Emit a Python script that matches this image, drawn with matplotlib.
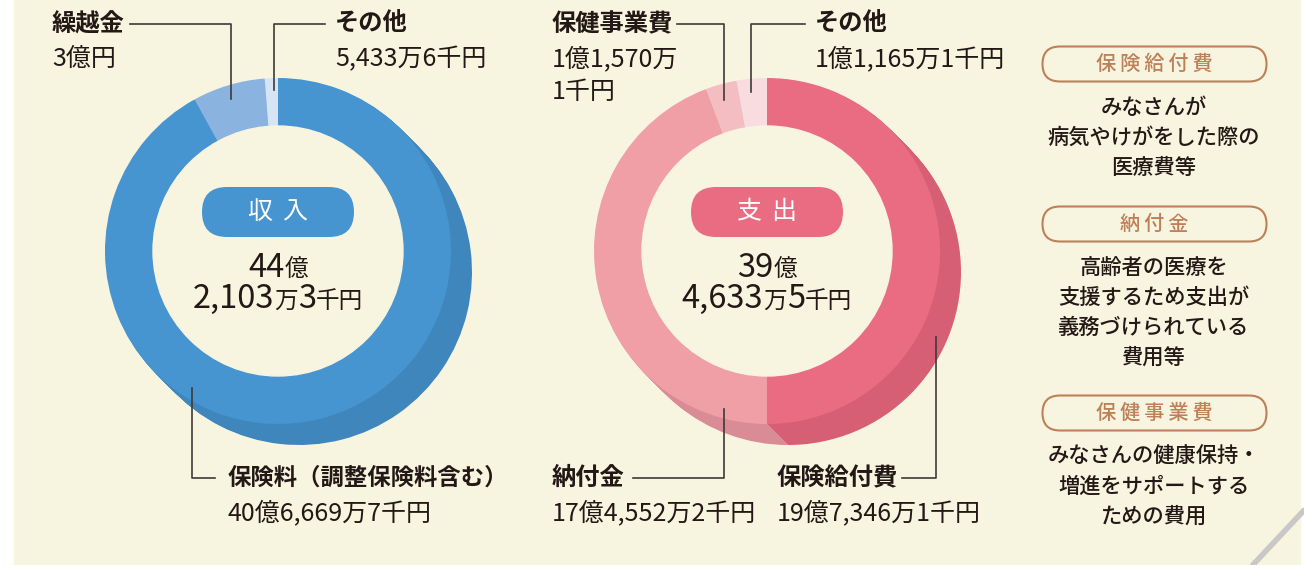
import matplotlib.pyplot as plt
from matplotlib.patches import Circle, FancyBboxPatch, Rectangle

plt.rcParams['font.family'] = ['Noto Sans CJK JP', 'DejaVu Sans']

W, H = 1304, 565
BG = '#F7F4E0'
INK = '#231815'
LINE = '#3E3A39'
BROWN = '#BF8058'

# 収入 (単位: 千円)
income_labels = ['保険料（調整保険料含む）', '繰越金', 'その他']
income_values = [4066697, 300000, 54336]
income_texts = ['40億6,669万7千円', '3億円', '5,433万6千円']
income_colors = ['#4694D0', '#8BB3DF', '#D6E4F4']
income_shadow = ['#3F86BC', '#7DA2CB', '#C2CFDF']
income_total = [['44', '億'], ['2,103', '万', '3', '千円']]

# 支出 (単位: 千円)
expense_labels = ['保険給付費', '納付金', '保健事業費', 'その他']
expense_values = [1973461, 1745522, 115701, 111651]
expense_texts = ['19億7,346万1千円', '17億4,552万2千円', '1億1,570万\n1千円', '1億1,165万1千円']
expense_colors = ['#EA6C82', '#F09FA7', '#F4BDC2', '#F9DCE0']
expense_shadow = ['#D65F75', '#DA8C96', '#DDAAAF', '#E2C6CA']
expense_total = [['39', '億'], ['4,633', '万', '5', '千円']]

# 用語説明
terms = ['保険給付費', '納付金', '保健事業費']
term_notes = [
    ['みなさんが', '病気やけがをした際の', '医療費等'],
    ['高齢者の医療を', '支援するため支出が', '義務づけられている', '費用等'],
    ['みなさんの健康保持・', '増進をサポートする', 'ための費用'],
]

R, R_IN, DEPTH = 173, 125, 21


def y(p):
    return H - p


fig = plt.figure(figsize=(W / 100, H / 100), dpi=100)
fig.patch.set_facecolor('white')
ax = fig.add_axes([0, 0, 1, 1])
ax.set_xlim(0, W)
ax.set_ylim(0, H)
renderer = fig.canvas.get_renderer()


def rich(cx, cy, parts):
    # digits large, units small, centred as one line
    texts = []
    for i, s in enumerate(parts):
        size = 23.5 if i % 2 == 0 else 17
        t = ax.text(0, y(cy), s, color=INK, fontsize=size, ha='left',
                    va='baseline', zorder=5)
        texts.append(t)
    widths = [t.get_window_extent(renderer).width for t in texts]
    x = cx - sum(widths) / 2
    for t, w in zip(texts, widths):
        t.set_x(x)
        x += w


def donut(cx, cy, values, colors, shadow, title, title_color, total):
    for k in range(DEPTH, 0, -1):
        ax.pie(values, colors=shadow, startangle=90, counterclock=False,
               radius=R, center=(cx + k, y(cy) - k))
    ax.pie(values, colors=colors, startangle=90, counterclock=False,
           radius=R, center=(cx, y(cy)))
    ax.add_patch(Circle((cx, y(cy)), R_IN, color=BG, zorder=3))
    ax.add_patch(FancyBboxPatch((cx - 51, y(cy - 39)), 102, 0,
                                boxstyle='round,pad=25', fc=title_color,
                                ec='none', zorder=4))
    ax.text(cx, y(cy - 39), title, color='white', fontsize=18,
            ha='center', va='center', zorder=5)
    rich(cx, cy + 26, total[0])
    rich(cx, cy + 57, total[1])


ax.add_patch(Rectangle((14, 0), 1286, H, color=BG, zorder=0))
ax.plot([1250, 1308], [y(568), y(506)], color='#C8C8C8', lw=4, zorder=1,
        solid_capstyle='butt')

donut(278, 251, income_values, income_colors, income_shadow,
      '収\u2009\u2009入', '#4694D0', income_total)
donut(767, 251, expense_values, expense_colors, expense_shadow,
      '支\u2009\u2009出', '#EA6C82', expense_total)


def label(x, yy, name, values, size=17.5):
    ax.text(x, y(yy), name, color=INK, fontsize=size, fontweight='bold',
            ha='left', va='center', zorder=6)
    for i, v in enumerate(values.split('\n')):
        ax.text(x, y(yy + 35 + i * 33), v, color=INK, fontsize=18,
                ha='left', va='center', zorder=6)


def leader(xs, ys):
    ax.plot(xs, [y(v) for v in ys], color=LINE, lw=1.2, zorder=6)


# 収入ラベル
label(228, 478, income_labels[0], income_texts[0], size=16.8)
leader([215, 192, 192], [478, 478, 388])
label(52, 24, income_labels[1], income_texts[1])
leader([130, 231, 231], [24, 24, 99])
label(335, 24, income_labels[2], income_texts[2])
leader([325, 274, 274], [24, 24, 90])

# 支出ラベル
label(777, 478, expense_labels[0], expense_texts[0])
leader([902, 936, 936], [478, 478, 337])
label(552, 478, expense_labels[1], expense_texts[1])
leader([633, 724, 724], [478, 478, 409])
label(552, 24, expense_labels[2], expense_texts[2])
leader([677, 724, 724], [24, 24, 100])
label(815, 24, expense_labels[3], expense_texts[3])
leader([805, 751, 751], [24, 24, 92])

# 用語説明
pill_y = [64, 224, 413]
for term, notes, py in zip(terms, term_notes, pill_y):
    ax.add_patch(FancyBboxPatch((1060, y(py)), 189, 0,
                                boxstyle='round,pad=17.5', fc='none',
                                ec=BROWN, lw=1.5, zorder=4))
    ax.text(1154, y(py), '\u2009'.join(term), color=BROWN, fontsize=14.5,
            fontweight='medium', ha='center', va='center', zorder=5)
    for i, line in enumerate(notes):
        ax.text(1154, y(py + 44 + i * 30), line, color=INK, fontsize=15.3,
                fontweight='medium', ha='center', va='center', zorder=5)

ax.set_xlim(0, W)
ax.set_ylim(0, H)
ax.set_aspect('equal')
ax.axis('off')

fig.savefig('out.png', dpi=100, facecolor='white')
